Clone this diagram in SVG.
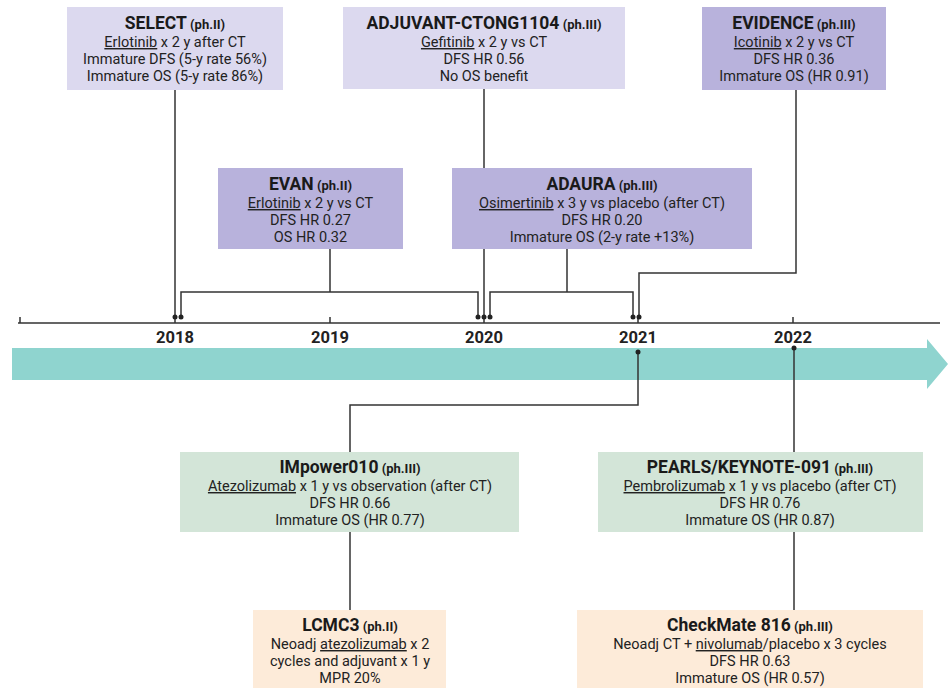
<svg xmlns="http://www.w3.org/2000/svg" width="948" height="688" viewBox="0 0 948 688">
<style>
.bl{fill:#dcd9ef}
.bd{fill:#b8b2dc}
.bg{fill:#d3e5d8}
.bp{fill:#fdebd9}
.t{font-family:Roboto,"Liberation Sans",sans-serif;font-size:17.5px;font-weight:bold;text-anchor:middle;fill:#1a1a1a}
.ph{font-size:13px}
.b{font-family:Roboto,"Liberation Sans",sans-serif;font-size:14.5px;text-anchor:middle;fill:#222}
.u{text-decoration:underline}
.ln{stroke:#333;stroke-width:1.5;fill:none}
.dot{fill:#222}
.yr{font-family:Roboto,"Liberation Sans",sans-serif;font-size:16.5px;font-weight:bold;text-anchor:middle;fill:#222}
</style>
<rect width="948" height="688" fill="#fff"/>
<g id="timeline">
<polygon points="12,348 927,348 927,339 948,364 927,389 927,380 12,380" fill="#8fd4cf"/>
<path class="ln" d="M18 323H940M20 317V323M175 317V323M330 317V323M484 317V323M638 317V323M793 317V323"/>
<text class="yr" x="175" y="343">2018</text>
<text class="yr" x="330" y="343">2019</text>
<text class="yr" x="484" y="343">2020</text>
<text class="yr" x="638" y="343">2021</text>
<text class="yr" x="793" y="343">2022</text>
</g>
<g id="connectors">
<path class="ln" d="M175 90V317"/>
<path class="ln" d="M330 249V292M181 317V292H478V317"/>
<path class="ln" d="M484 89V317"/>
<path class="ln" d="M567 249V292M490 317V292H633V317"/>
<path class="ln" d="M796 90V273H639V317"/>
<path class="ln" d="M350 452V405H638V352"/>
<path class="ln" d="M794 452V348"/>
<path class="ln" d="M350 532V610"/>
<path class="ln" d="M794 532V610"/>
</g>
<g id="select">
<rect class="bl" x="67" y="7" width="216" height="83"/>
<text class="t" x="175" y="29">SELECT<tspan class="ph"> (ph.II)</tspan></text>
<text class="b" x="175" y="47"><tspan class="u">Erlotinib</tspan> x 2 y after CT</text>
<text class="b" x="175" y="64">Immature DFS (5-y rate 56%)</text>
<text class="b" x="175" y="81">Immature OS (5-y rate 86%)</text>
</g>
<g id="adjuvant">
<rect class="bl" x="343" y="7" width="282" height="82"/>
<text class="t" x="484" y="29">ADJUVANT-CTONG1104<tspan class="ph"> (ph.III)</tspan></text>
<text class="b" x="484" y="47"><tspan class="u">Gefitinib</tspan> x 2 y vs CT</text>
<text class="b" x="484" y="64">DFS HR 0.56</text>
<text class="b" x="484" y="81">No OS benefit</text>
</g>
<g id="evidence">
<rect class="bd" x="702" y="7" width="184" height="83"/>
<text class="t" x="794" y="29">EVIDENCE<tspan class="ph"> (ph.III)</tspan></text>
<text class="b" x="794" y="47"><tspan class="u">Icotinib</tspan> x 2 y vs CT</text>
<text class="b" x="794" y="64">DFS HR 0.36</text>
<text class="b" x="794" y="81">Immature OS (HR 0.91)</text>
</g>
<g id="evan">
<rect class="bd" x="218" y="168" width="185" height="81"/>
<text class="t" x="310.5" y="190">EVAN<tspan class="ph"> (ph.II)</tspan></text>
<text class="b" x="310.5" y="208"><tspan class="u">Erlotinib</tspan> x 2 y vs CT</text>
<text class="b" x="310.5" y="225">DFS HR 0.27</text>
<text class="b" x="310.5" y="242">OS HR 0.32</text>
</g>
<g id="adaura">
<rect class="bd" x="452" y="168" width="300" height="81"/>
<text class="t" x="602" y="190">ADAURA<tspan class="ph"> (ph.III)</tspan></text>
<text class="b" x="602" y="208"><tspan class="u">Osimertinib</tspan> x 3 y vs placebo (after CT)</text>
<text class="b" x="602" y="225">DFS HR 0.20</text>
<text class="b" x="602" y="242">Immature OS (2-y rate +13%)</text>
</g>
<g id="impower010">
<rect class="bg" x="180" y="452" width="339" height="80"/>
<text class="t" x="350" y="473">IMpower010<tspan class="ph"> (ph.III)</tspan></text>
<text class="b" x="350" y="491"><tspan class="u">Atezolizumab</tspan> x 1 y vs observation (after CT)</text>
<text class="b" x="350" y="508">DFS HR 0.66</text>
<text class="b" x="350" y="525">Immature OS (HR 0.77)</text>
</g>
<g id="pearls">
<rect class="bg" x="598" y="452" width="325" height="80"/>
<text class="t" x="760" y="473">PEARLS/KEYNOTE-091<tspan class="ph"> (ph.III)</tspan></text>
<text class="b" x="760" y="491"><tspan class="u">Pembrolizumab</tspan> x 1 y vs placebo (after CT)</text>
<text class="b" x="760" y="508">DFS HR 0.76</text>
<text class="b" x="760" y="525">Immature OS (HR 0.87)</text>
</g>
<g id="lcmc3">
<rect class="bp" x="253" y="610" width="193" height="80"/>
<text class="t" x="350" y="631">LCMC3<tspan class="ph"> (ph.II)</tspan></text>
<text class="b" x="350" y="649">Neoadj <tspan class="u">atezolizumab</tspan> x 2</text>
<text class="b" x="350" y="666">cycles and adjuvant x 1 y</text>
<text class="b" x="350" y="683">MPR 20%</text>
</g>
<g id="checkmate816">
<rect class="bp" x="577" y="610" width="346" height="80"/>
<text class="t" x="750" y="631">CheckMate 816<tspan class="ph"> (ph.III)</tspan></text>
<text class="b" x="750" y="649">Neoadj CT + <tspan class="u">nivolumab</tspan>/placebo x 3 cycles</text>
<text class="b" x="750" y="666">DFS HR 0.63</text>
<text class="b" x="750" y="683">Immature OS (HR 0.57)</text>
</g>
<g id="dots">
<circle class="dot" cx="175" cy="317" r="2.5"/>
<circle class="dot" cx="181" cy="317" r="2.5"/>
<circle class="dot" cx="478" cy="317" r="2.5"/>
<circle class="dot" cx="484" cy="317" r="2.5"/>
<circle class="dot" cx="490" cy="317" r="2.5"/>
<circle class="dot" cx="633" cy="317" r="2.5"/>
<circle class="dot" cx="639" cy="317" r="2.5"/>
<circle class="dot" cx="638" cy="352" r="2.5"/>
<circle class="dot" cx="794" cy="348" r="2.5"/>
</g>
</svg>
